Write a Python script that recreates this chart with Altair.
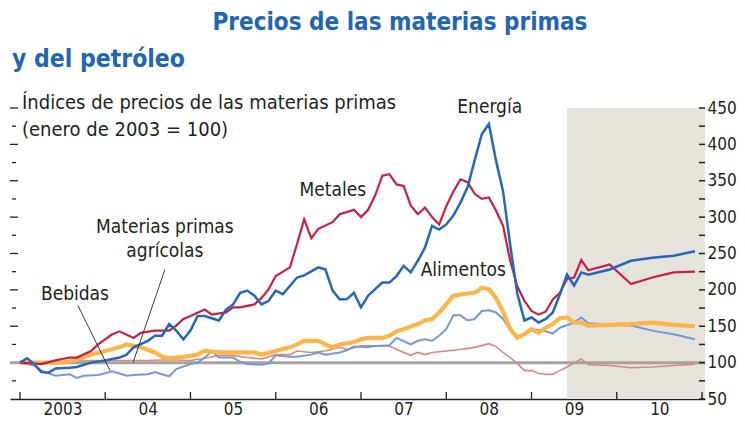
import altair as alt
import pandas as pd

# ---------------- data (month index: 0 = enero 2003) ----------------
energia_m = [0, 1, 2, 3, 4, 5, 7, 8, 10, 12, 14, 15, 16, 18, 19, 20, 21, 22, 23, 24, 25, 26, 28, 29, 30,
             31, 32, 33, 34, 35, 36, 37, 39, 40, 42, 43, 44, 45, 46, 47, 48, 49, 50, 51, 52, 53, 54, 55,
             56, 57, 58, 59, 60, 61, 62, 63, 64, 65, 66, 67, 68, 69, 70, 71, 72, 73, 74, 75, 76, 77, 78,
             79, 80, 83, 86, 89, 92, 95]
energia_v = [100, 106, 98, 87, 86, 92, 93, 94, 100, 103, 107, 111, 121, 130, 137, 137, 153, 144, 132, 144,
             164, 164, 158, 173, 180, 196, 199, 192, 180, 185, 199, 194, 217, 220, 231, 228, 199, 187, 187,
             196, 176, 192, 201, 210, 210, 219, 233, 224, 240, 258, 288, 283, 290, 302, 320, 341, 378, 414,
             428, 378, 335, 262, 195, 158, 162, 155, 160, 169, 194, 221, 206, 224, 221, 228, 240, 244, 247, 253]

metales_m = [0, 3, 5, 7, 8, 10, 11, 13, 14, 16, 17, 19, 21, 22, 23, 24, 26, 27, 29, 30, 31, 33, 34, 35, 36,
             38, 39, 40, 41, 42, 44, 45, 47, 48, 49, 50, 51, 52, 53, 54, 55, 56, 57, 58, 59, 60, 61, 62, 63,
             64, 65, 66, 67, 68, 69, 70, 71, 72, 73, 74, 75, 76, 77, 78, 79, 80, 83, 86, 89, 92, 95]
metales_v = [100, 98, 103, 107, 107, 116, 125, 139, 143, 134, 141, 144, 144, 151, 160, 164, 173, 166, 169,
             176, 176, 180, 189, 201, 219, 231, 263, 297, 271, 284, 293, 304, 310, 300, 310, 330, 357, 359,
             345, 343, 316, 304, 313, 300, 290, 315, 335, 352, 348, 332, 325, 327, 309, 288, 240, 205, 185,
             171, 166, 170, 187, 196, 215, 217, 241, 227, 235, 208, 217, 224, 225]

alimentos_m = [0, 3, 6, 8, 10, 12, 14, 15, 16, 17, 19, 20, 21, 22, 23, 25, 26, 28, 30, 33, 34, 36, 38, 39,
               40, 42, 43, 44, 45, 47, 48, 49, 51, 52, 53, 54, 56, 57, 58, 59, 60, 61, 63, 64, 65, 66, 67,
               68, 69, 70, 71, 72, 73, 74, 75, 76, 77, 78, 79, 80, 83, 86, 89, 92, 95]
alimentos_v = [100, 100, 100, 104, 111, 116, 121, 125, 123, 121, 114, 108, 106, 107, 108, 111, 116, 114, 114,
               114, 111, 116, 121, 125, 130, 130, 125, 121, 125, 128, 132, 134, 134, 137, 143, 146, 153, 158,
               160, 169, 180, 192, 195, 196, 203, 201, 189, 170, 146, 134, 139, 146, 141, 148, 153, 161, 162,
               155, 155, 151, 152, 153, 155, 152, 150]

bebidas_m = [0, 2, 3, 5, 7, 8, 9, 11, 13, 14, 15, 16, 18, 19, 20, 21, 22, 24, 25, 26, 27, 28, 30, 31, 32,
             34, 35, 36, 38, 39, 41, 42, 43, 45, 46, 47, 49, 50, 52, 53, 55, 56, 57, 58, 59, 60, 61, 62, 63,
             64, 65, 66, 67, 68, 69, 70, 71, 72, 73, 74, 75, 76, 78, 79, 80, 83, 86, 89, 92, 95]
bebidas_v = [100, 96, 89, 82, 84, 79, 82, 83, 88, 85, 82, 83, 84, 87, 84, 81, 91, 98, 100, 107, 116, 107,
             107, 101, 98, 97, 99, 110, 108, 108, 111, 114, 111, 114, 117, 122, 121, 123, 124, 134, 125, 130,
             132, 130, 137, 146, 165, 165, 158, 160, 171, 172, 169, 160, 145, 134, 140, 146, 145, 143, 140,
             148, 155, 162, 154, 152, 151, 144, 139, 132]

agricolas_m = [0, 5, 10, 14, 18, 21, 24, 26, 28, 30, 32, 34, 36, 38, 39, 41, 43, 45, 46, 48, 50, 52, 53, 55,
               56, 57, 58, 60, 62, 64, 66, 67, 68, 69, 70, 71, 72, 73, 74, 75, 76, 77, 79, 80, 83, 86, 89,
               92, 95]
agricolas_v = [100, 100, 103, 103, 103, 104, 103, 106, 110, 110, 107, 105, 111, 111, 116, 114, 116, 121, 118,
               123, 123, 123, 118, 110, 114, 111, 114, 116, 118, 121, 126, 122, 114, 107, 99, 89, 89, 85, 84,
               84, 89, 94, 105, 97, 96, 93, 94, 96, 98]

year_ticks = [2003, 2004, 2005, 2006, 2007, 2008, 2009, 2010, 2011]
year_labels = [2003, 2004, 2005, 2006, 2007, 2008, 2009, 2010]
y_labels = [50, 100, 150, 200, 250, 300, 350, 400, 450]
y_minor = [50, 75, 100, 125, 150, 175, 200, 225, 250, 275, 300, 325, 350, 375, 400, 425, 450]
proj_start = 2009.417

# ---------------- styles ----------------
FONT = "Liberation Sans Narrow, DejaVu Sans Condensed, Roboto Condensed, Arial Narrow, sans-serif"
INK = "#231f20"
BLUE_T = "#1f66b3"
W, H = 695, 291
TOP = 100
XD = [2002.883, 2011.035]

xs = alt.Scale(domain=XD, nice=False, zero=False)
ys = alt.Scale(domain=[50, 450], nice=False, zero=False)

x_axis = alt.Axis(values=year_labels, labelExpr="datum.value == 2003 ? '2003' : format(datum.value % 100, '02d')",
                  labelOffset=42.6, ticks=False, domain=True, domainColor=INK, domainWidth=1.5,
                  labelFont=FONT, labelFontSize=17, labelColor=INK, labelPadding=2, grid=False, title=None,
                  labelOverlap=False, labelFlush=False, labelBound=False)
y_axis = alt.Axis(orient="right", values=y_labels, ticks=False, domain=False, labelFont=FONT, labelFontSize=17,
                  labelColor=INK, labelPadding=2, grid=False, title=None, labelOverlap=False, labelFlush=False,
                  labelBound=False)


def X(field):
    return alt.X(field, type="quantitative", scale=xs, axis=x_axis)


def Y(field):
    return alt.Y(field, type="quantitative", scale=ys, axis=y_axis)


def series_df(months, vals):
    return pd.DataFrame({"t": [2003 + m / 12 for m in months], "v": vals})


shade = alt.Chart(pd.DataFrame({"t1": [proj_start], "t2": [XD[1]], "y1": [50], "y2": [450]})).mark_rect(
    color="#e6e2dc").encode(x=X("t1"), x2="t2", y=Y("y1"), y2="y2")

left_df = pd.DataFrame({"v": [v for v in y_minor if v > 50]})
left_df["long"] = left_df["v"] % 50 == 0
left_long = alt.Chart(left_df[left_df["long"]]).mark_rule(color=INK, strokeWidth=1.3).encode(
    y=Y("v"), x=alt.value(0), x2=alt.value(8))
left_short = alt.Chart(left_df[~left_df["long"]]).mark_rule(color=INK, strokeWidth=1.3).encode(
    y=Y("v"), x=alt.value(2), x2=alt.value(6))

right_ticks = alt.Chart(pd.DataFrame({"v": y_minor})).mark_rule(color=INK, strokeWidth=1.5).encode(
    y=Y("v"), x=alt.value(W - 6), x2=alt.value(W))

x_ticks = alt.Chart(pd.DataFrame({"t": year_ticks})).mark_rule(color=INK, strokeWidth=1.3).encode(
    x=X("t"), y=alt.value(H - 7), y2=alt.value(H))

base100 = alt.Chart(pd.DataFrame({"v": [100]})).mark_rule(color="#a5a2a0", strokeWidth=3).encode(y=Y("v"))


def line(months, vals, color, width):
    return alt.Chart(series_df(months, vals)).mark_line(color=color, strokeWidth=width, interpolate="linear").encode(
        x=X("t"), y=Y("v"))


l_agr = line(agricolas_m, agricolas_v, "#df857b", 1.6)
l_beb = line(bebidas_m, bebidas_v, "#7399d9", 2.0)
l_ali = line(alimentos_m, alimentos_v, "#fdb448", 4.2)
l_met = line(metales_m, metales_v, "#cc1f3f", 2.2)
l_ene = line(energia_m, energia_v, "#2567bb", 2.5)

labels_df = pd.DataFrame({
    "t": [2008.51, 2006.67, 2004.70, 2004.70, 2003.645, 2008.20],
    "v": [451, 336.7, 285.8, 254, 195, 228],
    "txt": ["Energía", "Metales", "Materias primas", "agrícolas", "Bebidas", "Alimentos"],
})
labels = alt.Chart(labels_df).mark_text(font=FONT, fontSize=19, color=INK, baseline="middle").encode(
    x=X("t"), y=Y("v"), text="txt")

pointers_df = pd.DataFrame({
    "t1": [2003.68, 2004.70], "v1": [178.4, 228],
    "t2": [2004.056, 2004.326], "v2": [89, 100],
})
pointers = alt.Chart(pointers_df).mark_rule(color="#3a3a3a", strokeWidth=1).encode(
    x=X("t1"), y=Y("v1"), x2="t2", y2="v2")

one = pd.DataFrame({"a": [1]})
title1 = alt.Chart(one).mark_text(text="Precios de las materias primas", font=FONT, fontSize=24, fontWeight="bold",
                                  color=BLUE_T, align="center", baseline="top").encode(
    x=alt.value(390), y=alt.value(11 - 8 - TOP))
title2 = alt.Chart(one).mark_text(text="y del petróleo", font=FONT, fontSize=24.5, fontWeight="bold",
                                  color=BLUE_T, align="left", baseline="middle").encode(
    x=alt.value(2), y=alt.value(60 - 8 - TOP))
sub1 = alt.Chart(one).mark_text(text="Índices de precios de las materias primas", font=FONT, fontSize=20,
                                color=INK, align="left", baseline="middle").encode(
    x=alt.value(12), y=alt.value(103 - 8 - TOP))
sub2 = alt.Chart(one).mark_text(text="(enero de 2003 = 100)", font=FONT, fontSize=20,
                                color=INK, align="left", baseline="middle").encode(
    x=alt.value(12), y=alt.value(130 - 8 - TOP))

chart = alt.layer(
    shade, left_long, left_short, l_agr, base100, l_beb, l_ali, l_met, l_ene,
    right_ticks, x_ticks, pointers, labels, title1, title2, sub1, sub2
).properties(
    width=W, height=H,
    padding={"left": 2, "top": TOP, "right": 32, "bottom": 20},
    autosize=alt.AutoSizeParams(type="none"),
).configure_view(stroke=None)

chart.save("out.html", embed_options={"renderer": "svg", "actions": False})
